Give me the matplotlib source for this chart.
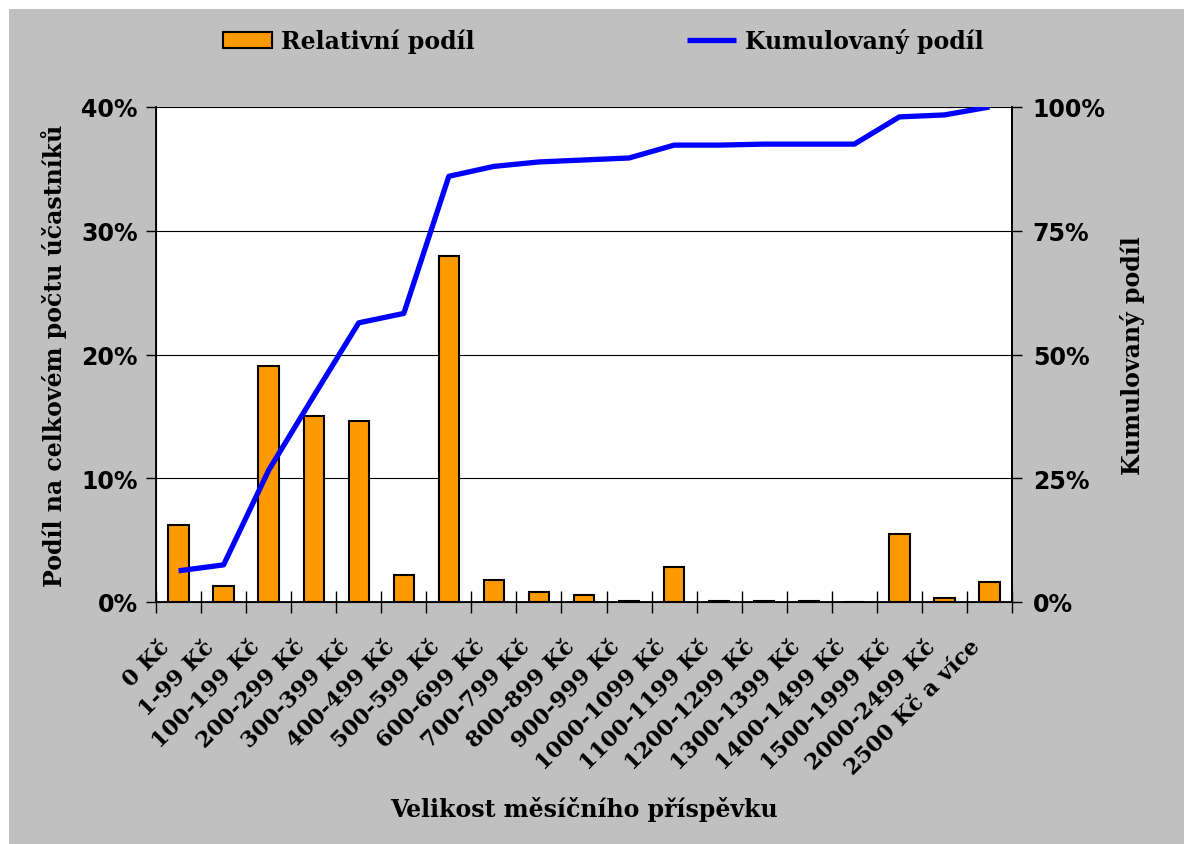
import numpy as np
import matplotlib
matplotlib.use("Agg")
import matplotlib.pyplot as plt
import matplotlib.transforms as mtransforms
from matplotlib.ticker import FixedLocator, NullFormatter

categories = ["0 Kč", "1-99 Kč", "100-199 Kč", "200-299 Kč", "300-399 Kč", "400-499 Kč",
              "500-599 Kč", "600-699 Kč", "700-799 Kč", "800-899 Kč", "900-999 Kč",
              "1000-1099 Kč", "1100-1199 Kč", "1200-1299 Kč", "1300-1399 Kč",
              "1400-1499 Kč", "1500-1999 Kč", "2000-2499 Kč", "2500 Kč a více"]
relative = [6.2, 1.3, 19.1, 15.0, 14.6, 2.2, 28.0, 1.8, 0.8, 0.6, 0.1,
            2.8, 0.1, 0.1, 0.1, 0.0, 5.5, 0.3, 1.6]          # % of participants
cumulative = [6.3, 7.5, 26.6, 41.6, 56.4, 58.3, 86.0, 88.0, 88.9, 89.3, 89.7,
              92.3, 92.3, 92.5, 92.5, 92.5, 98.0, 98.4, 100.0]  # %
left_ticks = [0, 10, 20, 30, 40]
right_ticks = [0, 25, 50, 75, 100]

GREY, ORANGE, BLUE = "#c0c0c0", "#ff9900", "#0000ff"
SERIF = ["DejaVu Serif", "Liberation Serif"]
SANS = ["DejaVu Sans"]

fig = plt.figure(figsize=(11.84, 8.45), dpi=100, facecolor="white")
# grey chart area, white strip at top/left like the clipped original
fig.patches.append(plt.Rectangle((9 / 1184, 0), 1, 1 - 10 / 845, transform=fig.transFigure,
                                 facecolor=GREY, edgecolor="none", zorder=-10))

ax = fig.add_axes([156 / 1184, 1 - 603 / 845, (1012 - 156) / 1184, (603 - 108) / 845])
ax.set_facecolor("white")
x = np.arange(len(categories))
bars = ax.bar(x, relative, width=0.45, color=ORANGE, edgecolor="black", lw=1.5,
              label="Relativní podíl", zorder=3)
ax.set_xlim(-0.5, len(categories) - 0.5)
ax.set_ylim(0, 40)
ax.set_yticks(left_ticks)
ax.set_yticklabels([f"{v}%" for v in left_ticks], family=SANS, fontweight="bold", fontsize=17)
ax.grid(True, axis="y", color="black", lw=0.8, zorder=0)
ax.tick_params(axis="y", direction="out", length=7, width=1, pad=6)

# category boundaries as ticks, labels at category centres
ax.xaxis.set_major_locator(FixedLocator(np.arange(-0.5, len(categories), 1.0)))
ax.xaxis.set_major_formatter(NullFormatter())
ax.tick_params(axis="x", which="major", direction="inout", length=16, width=1)
ax.set_xticks(x, minor=True)
ax.set_xticklabels(categories, minor=True, rotation=45, ha="right", va="top",
                   rotation_mode="anchor", family=SERIF, fontweight="bold", fontsize=16)
ax.tick_params(axis="x", which="minor", length=0, pad=24)
shift = mtransforms.ScaledTranslation(-20 / 100, 0, fig.dpi_scale_trans)
for lbl in ax.get_xticklabels(minor=True):
    lbl.set_transform(lbl.get_transform() + shift)

for s in ("left", "right", "bottom"):
    ax.spines[s].set_linewidth(1.3)
ax.spines["top"].set_visible(False)

ax.set_ylabel("Podíl na celkovém počtu účastníků", family=SERIF, fontweight="bold",
              fontsize=17, labelpad=10)
ax.set_xlabel("Velikost měsíčního příspěvku", family=SERIF, fontweight="bold",
              fontsize=17, labelpad=12)

ax2 = ax.twinx()
line, = ax2.plot(x, cumulative, color=BLUE, lw=3.8, solid_capstyle="butt",
                 label="Kumulovaný podíl", zorder=4)
ax2.set_ylim(0, 100)
ax2.set_yticks(right_ticks)
ax2.set_yticklabels([f"{v}%" for v in right_ticks], family=SANS, fontweight="bold", fontsize=17)
ax2.tick_params(axis="y", direction="out", length=7, width=1, pad=8)
ax2.spines["top"].set_visible(False)
ax2.spines["right"].set_linewidth(1.3)
ax2.set_ylabel("Kumulovaný podíl", family=SERIF, fontweight="bold", fontsize=17, labelpad=10)

fig.legend(handles=[bars, line], labels=["Relativní podíl", "Kumulovaný podíl"],
           loc="center", bbox_to_anchor=(603 / 1184, 1 - 42 / 845), ncol=2, frameon=False,
           prop=dict(family=SERIF, weight="bold", size=17), handlelength=2.1,
           handleheight=0.65, handletextpad=0.35, columnspacing=9)

fig.savefig("out.png", dpi=100, facecolor="white")
